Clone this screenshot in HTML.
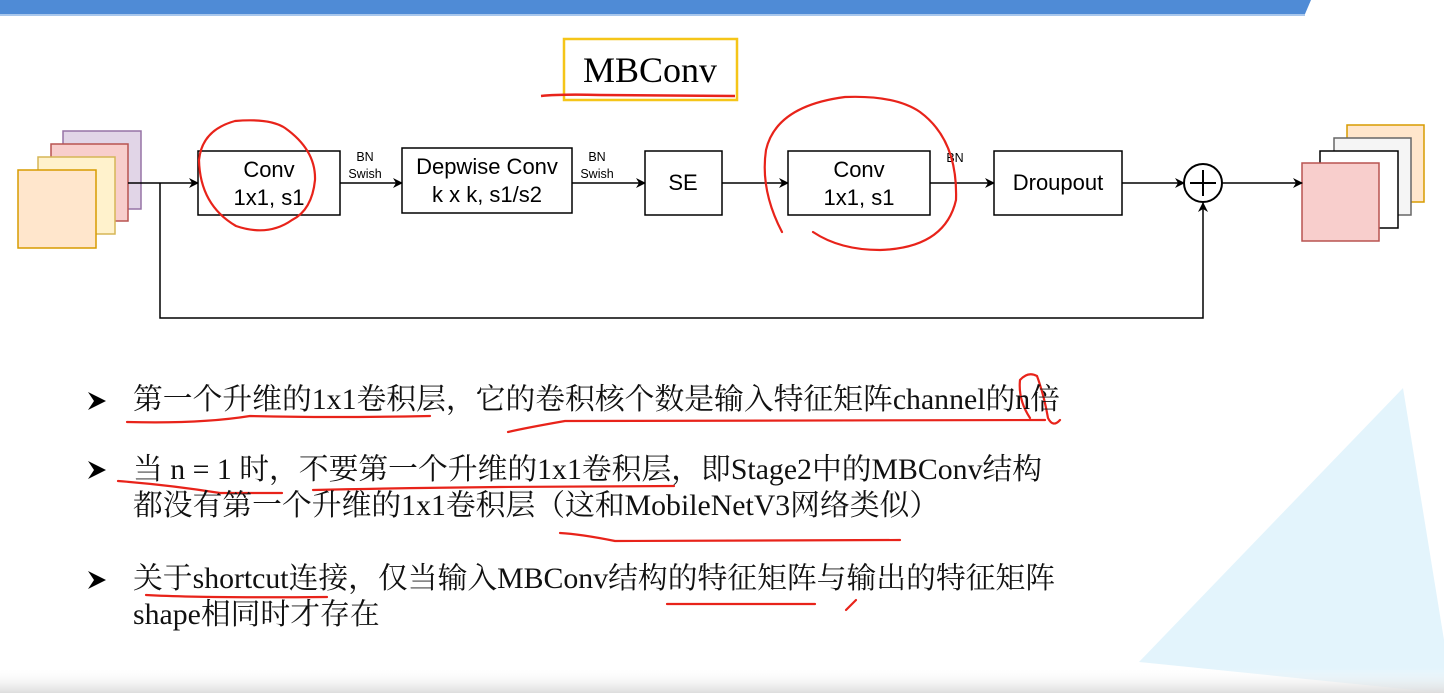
<!DOCTYPE html>
<html><head><meta charset="utf-8"><style>
body{margin:0;width:1444px;height:693px;overflow:hidden;background:#fff;position:relative}
svg{position:absolute;left:0;top:0}
.t{position:absolute;left:133px;font-family:"Liberation Serif","Noto Serif CJK SC",serif;font-size:29.8px;color:#111;white-space:nowrap;line-height:1}
</style></head><body>
<svg width="1444" height="693" viewBox="0 0 1444 693">
<defs><marker id="a" markerWidth="10" markerHeight="10" refX="9" refY="5" orient="auto" markerUnits="userSpaceOnUse"><path d="M0,0 L10,5 L0,10 L3,5 Z" fill="#000"/></marker>
<linearGradient id="g" x1="0" y1="0" x2="0" y2="1"><stop offset="0" stop-color="#fff" stop-opacity="0"/><stop offset="1" stop-color="#ddd"/></linearGradient></defs>
<polygon points="1403,388 1139,662 1444,693 1444,640" fill="#e3f4fc"/>
<rect x="0" y="668" width="1444" height="25" fill="url(#g)"/>
<polygon points="0,0 1311,0 1305,14 0,14" fill="#4f8bd6"/>
<rect x="0" y="14" width="1305" height="2" fill="#a9c7ec"/>
<rect x="564" y="39" width="173" height="61" fill="none" stroke="#f5c518" stroke-width="2.5"/>
<text x="650" y="82" font-family="Liberation Serif" font-size="36" text-anchor="middle">MBConv</text>
<path d="M541,96 Q560,94 600,95 L735,96" stroke="#e8231a" stroke-width="2.5" fill="none"/>
<g stroke-width="1.5">
<rect x="63" y="131" width="78" height="78" fill="#e1d5e7" stroke="#9673a6"/>
<rect x="51" y="144" width="77" height="77" fill="#f8cecc" stroke="#b85450"/>
<rect x="38" y="157" width="77" height="77" fill="#fff2cc" stroke="#d6b656"/>
<rect x="18" y="170" width="78" height="78" fill="#ffe6cc" stroke="#d79b00"/>
<rect x="1347" y="125" width="77" height="77" fill="#ffe6cc" stroke="#d79b00"/>
<rect x="1334" y="138" width="77" height="77" fill="#f5f5f5" stroke="#666"/>
<rect x="1320" y="151" width="78" height="77" fill="#fff" stroke="#000"/>
<rect x="1302" y="163" width="77" height="78" fill="#f8cecc" stroke="#b85450"/>
</g>
<g stroke="#000" stroke-width="1.5" fill="none">
<line x1="128" y1="183" x2="198" y2="183" marker-end="url(#a)"/>
<line x1="340" y1="183" x2="402" y2="183" marker-end="url(#a)"/>
<line x1="572" y1="183" x2="645" y2="183" marker-end="url(#a)"/>
<line x1="722" y1="183" x2="788" y2="183" marker-end="url(#a)"/>
<line x1="930" y1="183" x2="994" y2="183" marker-end="url(#a)"/>
<line x1="1122" y1="183" x2="1184" y2="183" marker-end="url(#a)"/>
<line x1="1222" y1="183" x2="1302" y2="183" marker-end="url(#a)"/>
<polyline points="160,183 160,318 1203,318 1203,203" marker-end="url(#a)"/>
<rect x="198" y="151" width="142" height="64" fill="#fff"/>
<rect x="402" y="148" width="170" height="65" fill="#fff"/>
<rect x="645" y="151" width="77" height="64" fill="#fff"/>
<rect x="788" y="151" width="142" height="64" fill="#fff"/>
<rect x="994" y="151" width="128" height="64" fill="#fff"/>
<circle cx="1203" cy="183" r="19" fill="#fff" stroke-width="2"/>
<line x1="1190" y1="183" x2="1216" y2="183" stroke-width="2"/>
<line x1="1203" y1="170" x2="1203" y2="196" stroke-width="2"/>
</g>
<g font-family="Liberation Sans" font-size="22" text-anchor="middle">
<text x="269" y="177">Conv</text><text x="269" y="205">1x1, s1</text>
<text x="487" y="174">Depwise Conv</text><text x="487" y="202">k x k, s1/s2</text>
<text x="683" y="190">SE</text>
<text x="859" y="177">Conv</text><text x="859" y="205">1x1, s1</text>
<text x="1058" y="190">Droupout</text>
</g>
<g font-family="Liberation Sans" font-size="12.5" text-anchor="middle">
<text x="365" y="161">BN</text><text x="365" y="178">Swish</text>
<text x="597" y="161">BN</text><text x="597" y="178">Swish</text>
<text x="955" y="162">BN</text>
</g>
<g stroke="#e8231a" stroke-width="2.2" fill="none" stroke-linecap="round">
<path d="M292,220 Q268,237 236,226 Q200,205 199,160 Q202,130 235,121 Q270,118 285,128 Q316,150 315,180 Q312,210 292,220"/>
<path d="M782,232 Q760,190 766,150 Q776,106 845,97 Q895,95 920,112 Q958,140 956,200 Q945,248 880,250 Q840,250 813,232"/>
<path d="M127,422 Q200,424 250,416 Q330,418 430,416"/>
<path d="M508,432 Q525,428 565,421 L1045,420"/>
<path d="M1030,418 Q1018,400 1020,380 Q1028,371 1037,376 Q1044,395 1048,418 Q1053,428 1060,420"/>
<path d="M118,481 Q170,485 220,493 L282,493"/>
<path d="M313,490 Q400,488 500,487 L674,486"/>
<path d="M560,533 Q580,534 615,541 L900,540"/>
<path d="M146,595 Q200,598 327,597"/>
<path d="M667,604 L815,604"/>
<path d="M846,610 L856,600"/>
</g>
<g fill="#000">
<path d="M88,392 L106,401 L88,410 L94,401 Z"/>
<path d="M88,461 L106,470 L88,479 L94,470 Z"/>
<path d="M88,571 L106,580 L88,589 L94,580 Z"/>
</g>
</svg>
<div class="t" style="top:385px">第一个升维的1x1卷积层，它的卷积核个数是输入特征矩阵channel的n倍</div>
<div class="t" style="top:455px">当 n = 1 时，不要第一个升维的1x1卷积层，即Stage2中的MBConv结构</div>
<div class="t" style="top:491px">都没有第一个升维的1x1卷积层（这和MobileNetV3网络类似）</div>
<div class="t" style="top:564px">关于shortcut连接，仅当输入MBConv结构的特征矩阵与输出的特征矩阵</div>
<div class="t" style="top:600px">shape相同时才存在</div>
</body></html>
